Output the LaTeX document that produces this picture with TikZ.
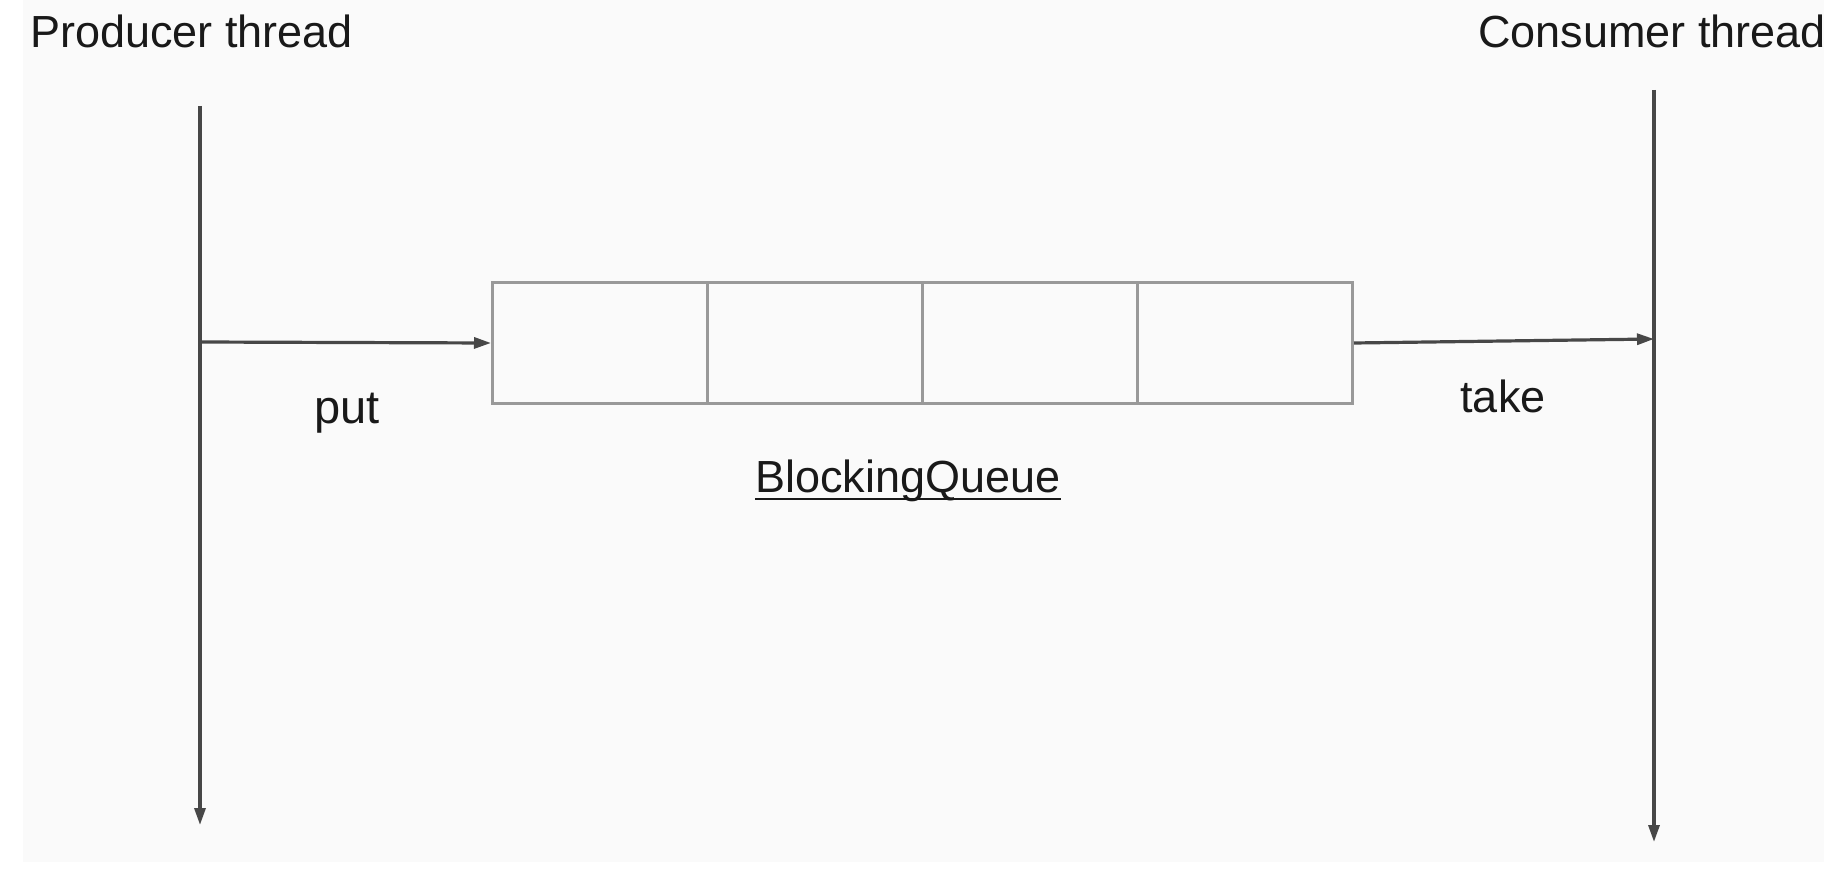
\documentclass[tikz,border=0pt]{standalone}
\usepackage{fontspec}
\setmainfont{Liberation Sans}
\usetikzlibrary{arrows.meta}
\begin{document}
\begin{tikzpicture}[x=1pt,y=-1pt,
  lbl/.style={font=\fontsize{45}{54}\selectfont, inner sep=0pt, text=black!90},
  cell/.style={draw=black!40, line width=3pt, minimum width=215pt, minimum height=121pt, inner sep=0pt, anchor=north west},
  flow/.style={draw=black!72, line width=3.2pt, -{Triangle[length=17pt,width=11pt]}}]
\useasboundingbox (0,0) rectangle (1824,877);
\fill[white] (0,0) rectangle (1824,877);
\fill[black!2] (23,0) rectangle (1824,862);
% titles
\node[lbl, anchor=base west] (prod) at (30,48) {Producer thread};
\node[lbl, anchor=base west] (cons) at (1478,48) {Consumer thread};
% queue cells
\node[cell] (c1) at (491,281) {};
\node[cell] (c2) at (706,281) {};
\node[cell] (c3) at (921,281) {};
\node[cell] (c4) at (1136,281) {};
% thread lines
\coordinate (ptop) at (200,106);
\coordinate (pbot) at (200,825);
\coordinate (ctop) at (1654,90);
\coordinate (cbot) at (1654,842);
\coordinate (pput) at (200,342);
\coordinate (ctake) at (1654,339);
\draw[flow] (ptop) -- (pbot);
\draw[flow] (ctop) -- (cbot);
\draw[flow] (pput) -- (c1.west);
\draw[flow] (c4.east) -- (ctake);
% labels
\node[lbl, anchor=base, font=\fontsize{47}{56}\selectfont] (put) at (347,423) {put};
\node[lbl, anchor=base] (take) at (1503,412) {take};
\node[lbl, anchor=base west] (bq) at (755,492) {BlockingQueue};
\draw[line width=2.8pt, black!90] ([yshift=-7pt]bq.base west) -- ([yshift=-7pt]bq.base east);
\end{tikzpicture}
\end{document}
